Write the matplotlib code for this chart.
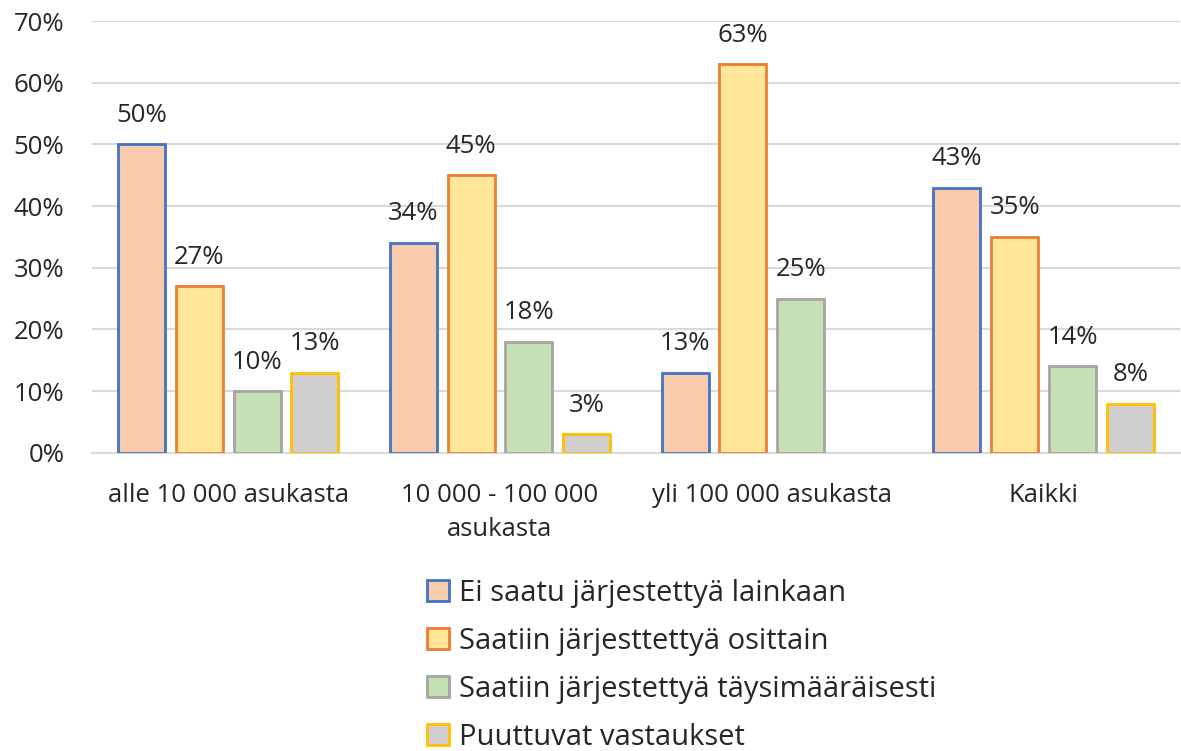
import numpy as np
import matplotlib
matplotlib.use('Agg')
import matplotlib.pyplot as plt

plt.rcParams['font.family'] = ['Open Sans', 'DejaVu Sans']

categories = ['alle 10 000 asukasta', '10 000 - 100 000\nasukasta', 'yli 100 000 asukasta', 'Kaikki']
series = ['Ei saatu järjestettyä lainkaan', 'Saatiin järjesttettyä osittain',
          'Saatiin järjestettyä täysimääräisesti', 'Puuttuvat vastaukset']
ei_saatu = [50, 34, 13, 43]
osittain = [27, 45, 63, 35]
taysi = [10, 18, 25, 14]
puuttuvat = [13, 3, np.nan, 8]
values = [ei_saatu, osittain, taysi, puuttuvat]

fills = ['#F8CBAD', '#FFE699', '#C5E0B4', '#D0CECE']
edges = ['#4472C4', '#ED7D31', '#A5A5A5', '#FFC000']
txt = '#262626'

fig = plt.figure(figsize=(11.81, 7.51), dpi=100)
ax = fig.add_axes([0.078, 0.397, 0.921, 0.575])

x = np.arange(len(categories))
w = 0.173
step = 0.213
for i, vals in enumerate(values):
    pos = x + (i - 1.5) * step
    v = np.array(vals, dtype=float)
    ax.bar(pos, v, width=w, color=fills[i], edgecolor=edges[i], linewidth=2,
           label=series[i], zorder=3)
    for p, val in zip(pos, v):
        if not np.isnan(val):
            ax.text(p, val + 2.7, f'{val:.0f}%', ha='center', va='bottom',
                    fontsize=18.5, color=txt)

ax.set_xlim(-0.5, 3.5)
ax.set_ylim(0, 70)
ax.set_yticks(np.arange(0, 71, 10))
ax.set_yticklabels([f'{t}%' for t in range(0, 71, 10)], fontsize=18.5, color=txt)
ax.set_xticks(x)
ax.set_xticklabels(categories, fontsize=18.5, color=txt, linespacing=1.45)
ax.tick_params(axis='x', length=0, pad=22)
ax.tick_params(axis='y', length=0, pad=20)
ax.grid(axis='y', color='#D9D9D9', linewidth=1.5, zorder=0)
for s in ['top', 'right', 'left']:
    ax.spines[s].set_visible(False)
ax.spines['bottom'].set_color('#D9D9D9')
ax.spines['bottom'].set_linewidth(1.5)

handles, labels = ax.get_legend_handles_labels()
fig.legend(handles, labels, loc='upper left', bbox_to_anchor=(0.352, 0.245), frameon=False,
           fontsize=21, labelspacing=0.65, handlelength=0.75, handleheight=0.75,
           handletextpad=0.35, borderaxespad=0, labelcolor=txt)

fig.savefig('out.png', dpi=100)
